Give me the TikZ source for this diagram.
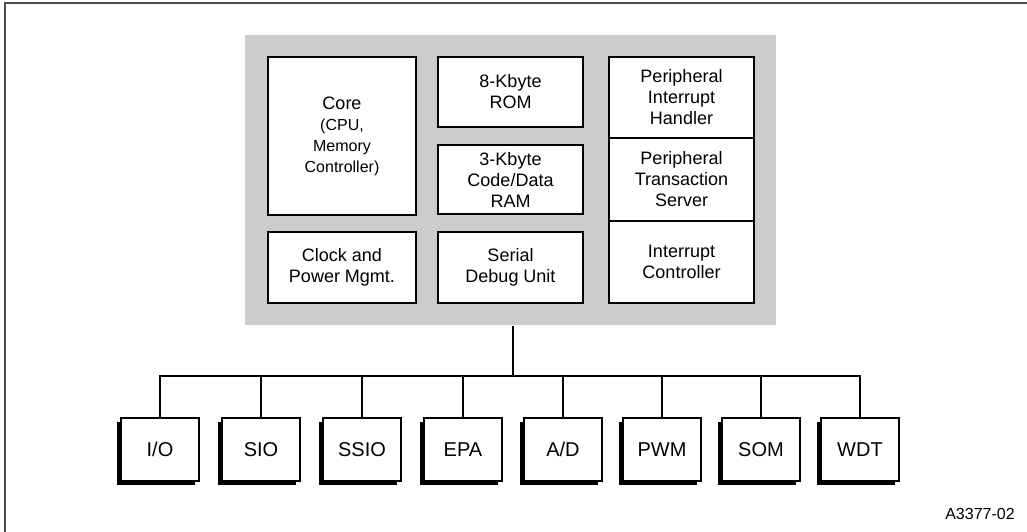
\documentclass[tikz,border=0pt]{standalone}
\usepackage{fontspec}
\setmainfont{Liberation Sans}
\usepackage{tikz}
\usetikzlibrary{shadows}

\begin{document}
\begin{tikzpicture}[x=1pt, y=-1pt, line width=1.8pt,
	blk/.style={draw, fill=white, inner sep=0pt, align=center,
		font=\fontsize{18}{21}\selectfont},
	periph/.style={blk, minimum width=78pt, minimum height=63pt,
		font=\fontsize{20}{24}\selectfont,
		drop shadow={shadow xshift=-4pt, shadow yshift=-4pt, fill=black, opacity=1}}
]
\useasboundingbox (0,0) rectangle (1027,532);
\draw[gray!60!black] (5,540) -- (5,3) -- (1035,3);

\node[fill=gray!40, minimum width=531pt, minimum height=290pt, inner sep=0pt] (chip) at (510.5,180) {};

\node[blk, minimum width=148pt, minimum height=158pt, font=\fontsize{16}{21}\selectfont] (core) at (342,136) {{\fontsize{18}{21}\selectfont Core}\\(CPU,\\Memory\\Controller)};
\node[blk, minimum width=148pt, minimum height=71pt] (clock) at (342,267.5) {Clock and\\Power Mgmt.};
\node[blk, minimum width=145pt, minimum height=70pt] (rom) at (510.5,92) {8-Kbyte\\ROM};
\node[blk, minimum width=145pt, minimum height=69pt] (ram) at (510.5,179.5) {3-Kbyte\\Code/Data\\RAM};
\node[blk, minimum width=145pt, minimum height=71pt] (sdu) at (510.5,267.5) {Serial\\Debug Unit};
\node[blk, minimum width=145pt, minimum height=81pt] (pih) at (681.5,97.5) {Peripheral\\Interrupt\\Handler};
\node[blk, minimum width=145pt, minimum height=83pt] (pts) at (681.5,179.5) {Peripheral\\Transaction\\Server};
\node[blk, minimum width=145pt, minimum height=82pt] (ic) at (681.5,262) {Interrupt\\Controller};

\node[periph] (io) at (160,449.5) {I/O};
\node[periph] (sio) at (261,449.5) {SIO};
\node[periph] (ssio) at (362,449.5) {SSIO};
\node[periph] (epa) at (463,449.5) {EPA};
\node[periph] (ad) at (563,449.5) {A/D};
\node[periph] (pwm) at (662,449.5) {PWM};
\node[periph] (som) at (761,449.5) {SOM};
\node[periph] (wdt) at (860,449.5) {WDT};

\coordinate (bus) at (513,376);
\draw (chip.south -| bus) -- (bus);
\foreach \p in {io,sio,ssio,epa,ad,pwm,som,wdt}
	\draw (bus) -| (\p.north);

\node[font=\fontsize{16}{20}\selectfont] (fig) at (980,514) {A3377-02};
\end{tikzpicture}
\end{document}
